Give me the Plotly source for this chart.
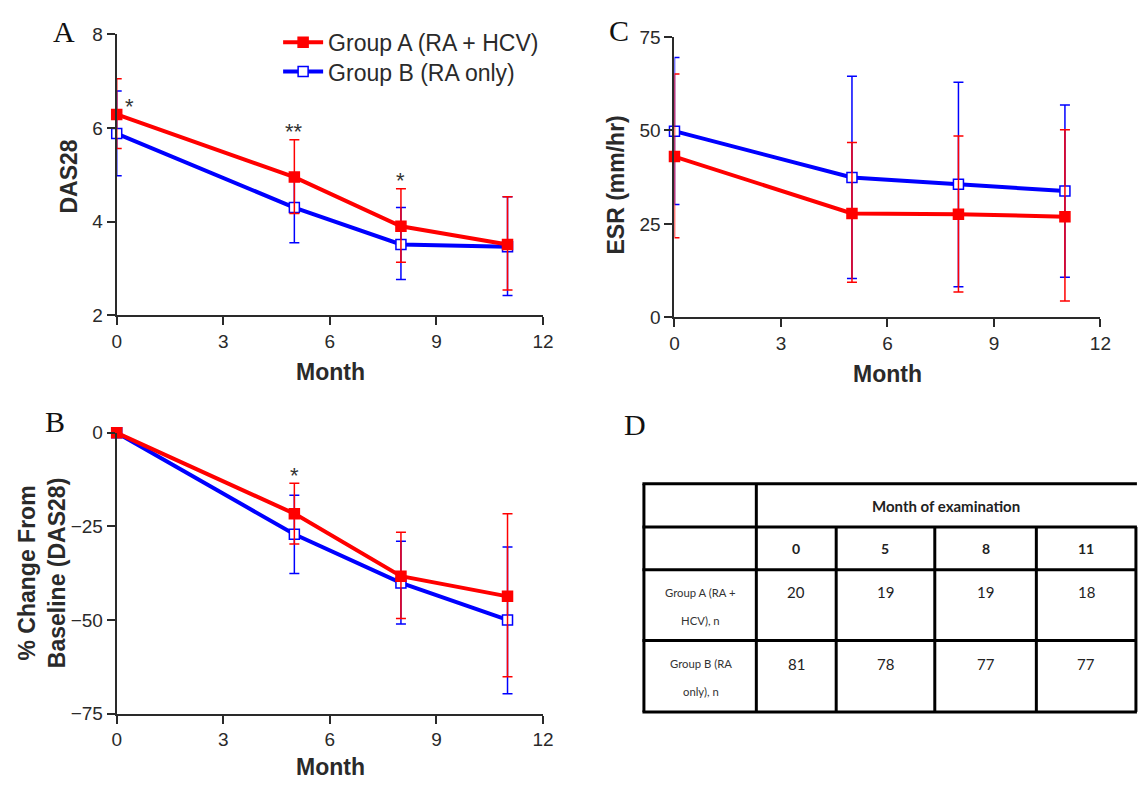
import plotly.graph_objects as go

W, H = 1142, 792
def px(x): return x / W
def py(y): return 1 - y / H

# ---------------- data ----------------
months = [0, 5, 8, 11]
group_names = ["Group A (RA + HCV)", "Group B (RA only)"]

# Panel A: DAS28 (mean, upper err, lower err)
das_A = [6.29, 4.95, 3.90, 3.51]
das_A_hi = [0.76, 0.80, 0.80, 1.02]
das_A_lo = [0.73, 0.78, 0.77, 0.97]
das_B = [5.88, 4.30, 3.51, 3.46]
das_B_hi = [0.91, 0.74, 0.79, 1.07]
das_B_lo = [0.90, 0.75, 0.75, 1.04]
sig_das = ["*", "**", "*", ""]

# Panel B: % change from baseline (DAS28)
pct_A = [0, -21.6, -38.3, -43.7]
pct_A_hi = [None, 8.1, 11.7, 22.1]
pct_A_lo = [None, 8.1, 11.3, 21.5]
pct_B = [0, -27.1, -40.1, -50.0]
pct_B_hi = [None, 10.4, 11.1, 19.5]
pct_B_lo = [None, 10.5, 11.0, 19.7]
sig_pct = ["", "*", "", ""]

# Panel C: ESR (mm/hr)
esr_A = [43.0, 27.8, 27.6, 26.9]
esr_A_hi = [22.1, 19.0, 20.9, 23.3]
esr_A_lo = [21.7, 18.4, 20.8, 22.5]
esr_B = [49.8, 37.4, 35.6, 33.8]
esr_B_hi = [19.7, 27.1, 27.3, 23.0]
esr_B_lo = [19.6, 27.0, 27.4, 23.1]

# Panel D: table
table_header = "Month of examination"
n_A = [20, 19, 19, 18]
n_B = [81, 78, 77, 77]
row_labels = [["Group A (RA +", "HCV), n"], ["Group B (RA", "only), n"]]

# ---------------- style ----------------
RED = "#ff0000"
BLUE = "#0000ff"
AXC = "#2a2a2a"
FONT = "Liberation Sans"

fig = go.Figure()

def add_panel(xa, ya, yA, hiA, loA, yB, hiB, loB, legend):
    # blue first, red drawn on top
    specs = [
        (group_names[1], yB, hiB, loB, BLUE, "white", "legend2"),
        (group_names[0], yA, hiA, loA, RED, RED, "legend"),
    ]
    for name, y, hi, lo, color, fill, leg in specs:
        fig.add_trace(go.Scatter(
            x=months, y=y, name=name, mode="lines+markers",
            xaxis=xa, yaxis=ya, cliponaxis=False,
            line=dict(color=color, width=4),
            marker=dict(symbol="square", size=10, color=fill,
                        line=dict(color=color, width=1.5)),
            error_y=dict(type="data", symmetric=False, array=hi, arrayminus=lo,
                         color=color, thickness=1.5, width=5),
            showlegend=legend, legend=leg,
        ))

add_panel("x", "y", das_A, das_A_hi, das_A_lo, das_B, das_B_hi, das_B_lo, True)
add_panel("x2", "y2", esr_A, esr_A_hi, esr_A_lo, esr_B, esr_B_hi, esr_B_lo, False)
add_panel("x3", "y3", pct_A, pct_A_hi, pct_A_lo, pct_B, pct_B_hi, pct_B_lo, False)

axis_common = dict(showline=True, linecolor=AXC, linewidth=2, ticks="outside",
                   ticklen=8, tickwidth=2, tickcolor=AXC, showgrid=False,
                   zeroline=False, tickfont=dict(family=FONT, size=19, color=AXC))

annotations = []
STAR = dict(family=FONT, size=22, color="#333")
# significance marks (placed relative to the Group A mean / upper error bar)
for i, s in enumerate(sig_das):
    if not s:
        continue
    if i == 0:
        annotations.append(dict(x=months[i], y=das_A[i], xref="x", yref="y", text=s,
                                showarrow=False, yanchor="bottom", xshift=13, yshift=-7, font=STAR))
    else:
        annotations.append(dict(x=months[i], y=das_A[i] + das_A_hi[i], xref="x", yref="y",
                                text=s, showarrow=False, yanchor="bottom", yshift=-6.5, font=STAR))
for i, s in enumerate(sig_pct):
    if not s:
        continue
    annotations.append(dict(x=months[i], y=pct_A[i] + pct_A_hi[i], xref="x3", yref="y3",
                            text=s, showarrow=False, yanchor="bottom", yshift=-7, font=STAR))

def pannot(text, x, y, size, bold=False, family=FONT, angle=0, color=AXC, **kw):
    t = f"<b>{text}</b>" if bold else text
    annotations.append(dict(text=t, x=px(x), y=py(y), xref="paper", yref="paper",
                            showarrow=False, textangle=angle, xanchor="center",
                            yanchor="middle", font=dict(family=family, size=size, color=color), **kw))

# panel letters
for letter, x, y in [("A", 59.5, 22), ("C", 623, 21), ("B", 50.5, 423), ("D", 639, 426)]:
    pannot(letter, x, y, 30, family="Liberation Serif", color="#111")

# axis titles
pannot("DAS28", 65, 171, 23, bold=True, angle=-90)
pannot("Month", 330, 372, 23, bold=True)
pannot("ESR (mm/hr)", 620, 180, 23, bold=True, angle=-90)
pannot("Month", 895, 374, 23, bold=True)
pannot("% Change From<br>Baseline (DAS28)", 37, 578, 23, bold=True, angle=-90)
pannot("Month", 330, 778, 23, bold=True)

# ---------------- table (panel D) ----------------
shapes = []
TX0, TX1 = 648, 1148
label_edge = 762
col_edges = [762, 843, 943, 1046, 1147]
row_edges = [486.7, 531, 575, 647.7, 721]
for ry in row_edges:
    shapes.append(dict(type="line", xref="paper", yref="paper",
                       x0=px(TX0 - 1.5), x1=px(TX1), y0=py(ry), y1=py(ry),
                       line=dict(color="black", width=3)))
for cx in [TX0, label_edge]:
    shapes.append(dict(type="line", xref="paper", yref="paper", x0=px(cx), x1=px(cx),
                       y0=py(row_edges[0]), y1=py(row_edges[-1]), line=dict(color="black", width=3)))
for cx in col_edges[1:]:
    shapes.append(dict(type="line", xref="paper", yref="paper", x0=px(cx), x1=px(cx),
                       y0=py(row_edges[1]), y1=py(row_edges[-1]), line=dict(color="black", width=3)))

TF = "Lato"
pannot(table_header, (col_edges[0] + col_edges[-1]) / 2, 510, 15, bold=True, family=TF, color="#222")
centers = [(col_edges[i] + col_edges[i + 1]) / 2 for i in range(len(months))]
for c, m in zip(centers, months):
    pannot(str(m), c, 553.3, 14, bold=True, family=TF, color="#222")
for c, a, b in zip(centers, n_A, n_B):
    pannot(str(a), c, 598, 15, family=TF, color="#222")
    pannot(str(b), c, 671.7, 15, family=TF, color="#222")
label_cx = (TX0 + label_edge) / 2 + 0.5
for (l1, l2), y1 in zip(row_labels, [598.3, 671.7]):
    pannot(l1, label_cx, y1, 11.3, family=TF, color="#333")
    pannot(l2, label_cx, y1 + 28.5, 11.3, family=TF, color="#333")

leg_common = dict(xanchor="left", yanchor="middle", bgcolor="rgba(0,0,0,0)",
                  font=dict(family=FONT, size=23, color=AXC), itemwidth=40)
fig.update_layout(
    width=W, height=H, margin=dict(l=0, r=0, t=0, b=0),
    paper_bgcolor="white", plot_bgcolor="white",
    showlegend=True,
    legend=dict(x=px(277), y=py(33.3), **leg_common),
    legend2=dict(x=px(277), y=py(63.3), **leg_common),
    xaxis=dict(domain=[px(113.3), px(545.7)], range=[0, 12], dtick=3, tick0=0, anchor="y", **axis_common),
    yaxis=dict(domain=[py(313.5), py(25)], range=[2, 8], dtick=2, tick0=2, anchor="x", **axis_common),
    xaxis2=dict(domain=[px(679), px(1111)], range=[0, 12], dtick=3, tick0=0, anchor="y2", **axis_common),
    yaxis2=dict(domain=[py(315.7), py(27.7)], range=[0, 75], dtick=25, tick0=0, anchor="x2", **axis_common),
    xaxis3=dict(domain=[px(113.3), px(545.7)], range=[0, 12], dtick=3, tick0=0, anchor="y3", **axis_common),
    yaxis3=dict(domain=[py(722.7), py(434.3)], range=[-75, 0], dtick=25, tick0=0, anchor="x3", **axis_common),
    annotations=annotations,
    shapes=shapes,
)

fig.write_html("out.html", config={"displayModeBar": False},
               post_script="document.body.style.margin='0';document.body.style.overflow='hidden';")
